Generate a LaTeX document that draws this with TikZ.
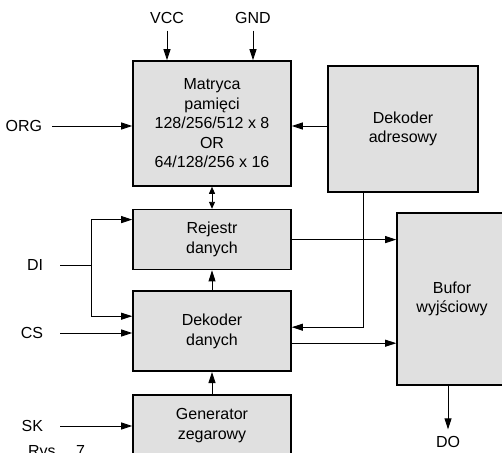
\documentclass[tikz,border=0pt]{standalone}
\usepackage{fontspec}
\setmainfont{Liberation Sans}
\usetikzlibrary{arrows.meta,positioning}

\begin{document}
\begin{tikzpicture}[x=1pt, y=-1pt, line width=0.9pt,
  >={Triangle[length=11pt,width=7pt]},
  blok/.style={draw, line width=1.6pt, fill=black!12, align=center,
    minimum width=158pt, inner sep=0pt, font=\fontsize{16}{19.5}\selectfont},
  sig/.style={font=\fontsize{16}{19.5}\selectfont, inner sep=2pt, outer sep=5pt}]
  \useasboundingbox (0,0) rectangle (502,452);

  % bloki
  \node[blok, minimum height=125pt] (mat) at (212,123.5)
    {Matryca\\pamięci\\128/256/512 x 8\\OR\\64/128/256 x 16};
  \node[blok, minimum height=60pt, below=22pt of mat] (rej) {Rejestr\\danych};
  \node[blok, minimum height=80pt, below=20pt of rej] (dd) {Dekoder\\danych};
  \node[blok, minimum height=62pt, below=22pt of dd] (gen) {Generator\\zegarowy};
  \node[blok, minimum width=150pt, minimum height=126pt] (adr) at (403,129) {Dekoder\\adresowy};
  \node[blok, minimum width=110pt, minimum height=172pt] (buf) at (452,299) {Bufor\\wyjściowy};

  % sygnaly
  \node[sig] (vcc) at (167,18) {VCC};
  \node[sig] (gnd) at (253,18) {GND};
  \node[sig, anchor=east, outer sep=8pt] (org) at (52,126) {ORG};
  \node[sig, anchor=east, outer sep=15pt] (di) at (60,265) {DI};
  \node[sig, anchor=east, outer sep=15pt] (cs) at (60,333) {CS};
  \node[sig, anchor=east, outer sep=15pt] (sk) at (60,426) {SK};
  \node[sig] (do) at (448,442) {DO};
  \coordinate (dij) at (91,265);

  \draw[->] (vcc) -- (vcc |- mat.north);
  \draw[->] (gnd) -- (gnd |- mat.north);
  \draw[->] (org) -- (org -| mat.west);
  \draw[->] (org -| adr.west) -- (org -| mat.east);
  \draw (di) -- (dij);
  \draw[->] (dij) |- ([yshift=20pt]rej.west);
  \draw[->] (dij) |- ([yshift=15pt]dd.west);
  \draw[->] (cs) -- (cs -| dd.west);
  \draw[->] (sk) -- (sk -| gen.west);

  \draw[<->, >={Triangle[length=7pt,width=6pt]}] (mat) -- (rej);
  \draw[->] (dd) -- (rej);
  \draw[->] (gen) -- (dd);

  \draw[->] (rej.east) -- (rej.east -| buf.west);
  \draw[->] ([xshift=-40pt]adr.south) |- ([yshift=4pt]dd.east);
  \draw[->] ([yshift=-12pt]dd.east) -- ([yshift=-12pt]dd.east -| buf.west);
  \draw[->] (buf.south -| do) -- (do);

  \node[sig, anchor=base west, outer sep=0pt] (rys) at (26,456) {Rys.\hspace{16pt}7};
\end{tikzpicture}
\end{document}
